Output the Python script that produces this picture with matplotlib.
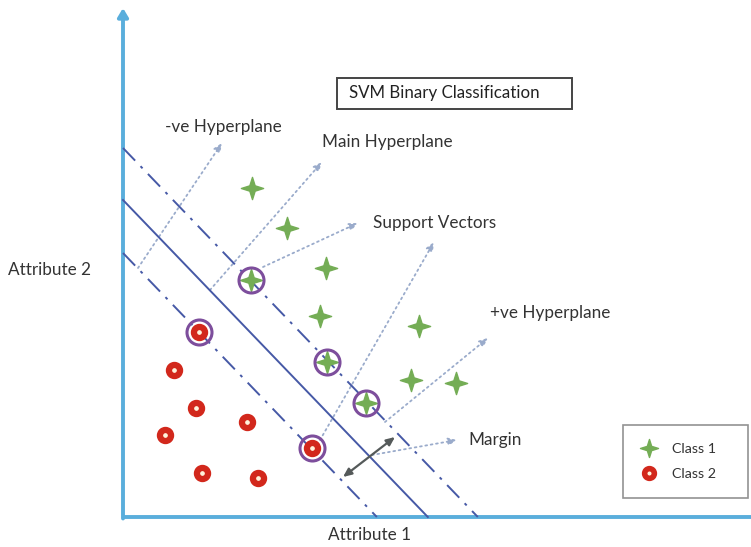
import numpy as np
import matplotlib.pyplot as plt
from matplotlib.path import Path
from matplotlib.patches import Rectangle
from matplotlib.lines import Line2D

plt.rcParams['font.family'] = ['Lato', 'DejaVu Sans']

# Data (x = Attribute 1, y = Attribute 2, axis origin at 0,0)
class1_x = [129, 164, 203, 197, 296, 288, 333]
class1_y = [329, 289, 249, 201, 191, 137, 134]
class2_x = [51, 73, 42, 124, 79, 135]
class2_y = [147, 109, 82, 95, 44, 39]

sv1_x = [128, 204, 243]          # support vectors of class 1
sv1_y = [237, 155, 114]
sv2_x = [76, 189]                # support vectors of class 2
sv2_y = [185, 69]

slope = -1.04
intercepts = {'neg': 264, 'main': 317, 'pos': 369}

# annotations: label, text position, list of (start, tip)
notes = [
    ('-ve Hyperplane', (42, 390), [((15, 249), (99, 374))]),
    ('Main Hyperplane', (199, 375), [((87, 227), (199, 355))]),
    ('Support Vectors', (250, 294), [((140, 250), (235, 294)), ((197, 77), (311, 275))]),
    ('+ve Hyperplane', (367, 204), [((262, 95), (365, 179))]),
    ('Margin', (345, 77), [((249, 62), (334, 77))]),
]
margin_start = (220, 40)
margin_end = (272, 80)

# colours
axis_col = '#5aaedc'
line_col = '#4659a6'
green = '#74ad55'
red = '#d2281c'
purple = '#7d4e9c'
note_col = '#9aabcb'
text_col = '#333333'

# 4-point star marker
c = 0.24
star = Path([(0, 1), (c, c), (1, 0), (c, -c), (0, -1), (-c, -c), (-1, 0), (-c, c), (0, 1)],
            [Path.MOVETO] + [Path.LINETO] * 7 + [Path.CLOSEPOLY])

fig = plt.figure(figsize=(7.51, 5.47), dpi=100)
ax = fig.add_axes([0, 0, 1, 1])
ax.set_xlim(-123, 628)
ax.set_ylim(-30, 517)
ax.axis('off')

# axes of the diagram
ax.plot([0, 628], [0, 0], color=axis_col, lw=2.8, solid_capstyle='butt', zorder=2)
ax.annotate('', xy=(0, 509), xytext=(0, -1.5),
            arrowprops=dict(arrowstyle='-|>,head_length=0.5,head_width=0.3',
                            color=axis_col, lw=2.8, shrinkA=0, shrinkB=0))

# hyperplanes
styles = {'neg': (0, (9, 4, 1.5, 4)), 'main': '-', 'pos': (0, (9, 4, 1.5, 4))}
for key, b in intercepts.items():
    xs = np.array([0, -b / slope])
    ax.plot(xs, b + slope * xs, color=line_col, lw=1.4, ls=styles[key], zorder=3)

# dotted annotation arrows and labels
for label, tpos, arrows in notes:
    for start, tip in arrows:
        ax.annotate('', xy=tip, xytext=start,
                    arrowprops=dict(arrowstyle='-|>,head_length=0.5,head_width=0.22',
                                    color=note_col, lw=1.3, ls=(0, (1, 2)),
                                    shrinkA=0, shrinkB=0), zorder=2)
    ax.text(tpos[0], tpos[1], label, fontsize=12.3, color=text_col,
            ha='left', va='center')

# margin arrow
ax.annotate('', xy=margin_end, xytext=margin_start,
            arrowprops=dict(arrowstyle='<|-|>,head_length=0.5,head_width=0.22',
                            color='#555a5a', lw=1.6, shrinkA=0, shrinkB=0), zorder=4)

# points
ax.plot(class1_x + sv1_x, class1_y + sv1_y, ls='none', marker=star, ms=16,
        color=green, mec=green, zorder=5)
ax.plot(class2_x + sv2_x, class2_y + sv2_y, ls='none', marker='o', ms=8, mew=4.5,
        mfc='#fff3dc', mec=red, zorder=5)
ax.plot(sv1_x + sv2_x, sv1_y + sv2_y, ls='none', marker='o', ms=18, mew=2.2,
        mfc='none', mec=purple, zorder=6)

# title box
ax.add_patch(Rectangle((214, 408), 235, 31, fill=False, ec='#444444', lw=1.4, zorder=4))
ax.text(226, 424, 'SVM Binary Classification', fontsize=12.2, color='#222222',
        ha='left', va='center')

# axis titles
ax.text(-115, 247, 'Attribute 2', fontsize=12.3, color=text_col, ha='left', va='center')
ax.text(247, -18, 'Attribute 1', fontsize=12.3, color=text_col, ha='center', va='center')

# legend
handles = [
    Line2D([], [], ls='none', marker=star, ms=13, color=green),
    Line2D([], [], ls='none', marker='o', ms=7, mew=4, mfc='#fff3dc', mec=red),
]
leg = ax.legend(handles, ['Class 1', 'Class 2'], loc='upper left', mode='expand',
                bbox_to_anchor=(623 / 751, 1 - 425 / 547, 125 / 751, 0),
                bbox_transform=fig.transFigure,
                fontsize=10.3, frameon=True, fancybox=False, borderpad=1.25,
                handletextpad=1.0, labelspacing=0.95, handlelength=1.2, borderaxespad=0)
leg.get_frame().set_edgecolor('#777777')
leg.get_frame().set_linewidth(1.2)
for t in leg.get_texts():
    t.set_color(text_col)

fig.savefig('out.png', dpi=100, facecolor='white')
